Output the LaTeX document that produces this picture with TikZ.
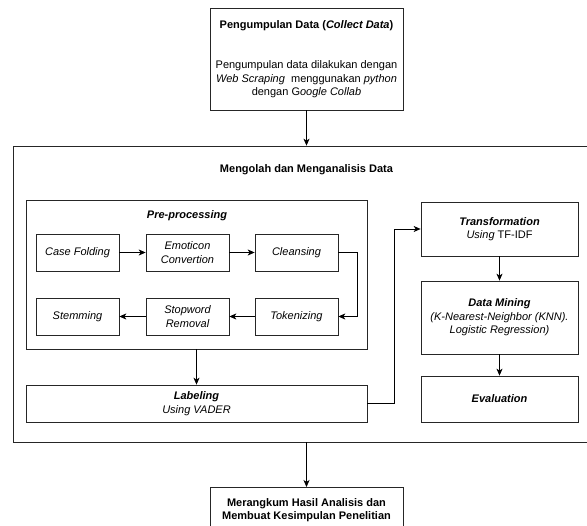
\documentclass[tikz,border=0pt]{standalone}
\usepackage{fontspec}
\setmainfont{Liberation Sans}
\usetikzlibrary{arrows.meta, calc}

\begin{document}
\begin{tikzpicture}[x=1pt, y=1pt,
	box/.style = {draw=black!85, line width=0.7pt, align=center, inner sep=2pt},
	step box/.style = {box, minimum width=83pt, minimum height=37pt, font=\fontsize{11}{13.5}\selectfont\itshape},
	flow/.style = {-{Stealth[length=7pt, width=6pt, inset=2pt]}, line width=0.7pt},
	font=\fontsize{11}{13.5}\selectfont]
	\useasboundingbox (0,0) rectangle (587,-526);
	\clip (0,0) rectangle (587,-526);
	% data collection
	\node[box, minimum width=193pt, minimum height=102pt] (collect) at (306.5,-59) {\textbf{Pengumpulan Data (\textit{Collect Data})}\\[27pt]
		Pengumpulan data dilakukan dengan\\
		\textit{Web Scraping}\ \ menggunakan \textit{python}\\
		dengan G\textit{oogle Collab}};
	% processing and analysis
	\node[box, minimum width=600pt, minimum height=296pt] (main) at (313,-294) {};
	\node (mainT) at (306.5,-170) {\textbf{Mengolah dan Menganalisis Data}};
	\node[box, minimum width=341pt, minimum height=149pt] (pre) at (196.5,-274.5) {};
	\node (preT) at (187,-216) {\textbf{\textit{Pre-processing}}};
	\node[step box] (fold) at (77.5,-252.5) {Case Folding};
	\node[step box] (emot) at (187.5,-252.5) {Emoticon\\Convertion};
	\node[step box] (clean) at (296.5,-252.5) {Cleansing};
	\node[step box] (stem) at (77.5,-316.5) {Stemming};
	\node[step box] (stop) at (187.5,-316.5) {Stopword\\Removal};
	\node[step box] (token) at (296.5,-316.5) {Tokenizing};
	\node[box, minimum width=341pt, minimum height=37pt] (label) at (196.5,-403.5) {\textbf{\textit{Labeling}}\\\textit{Using VADER}};
	\node[box, minimum width=157pt, minimum height=54pt] (trans) at (499.5,-229) {\textbf{\textit{Transformation}}\\\textit{Using} TF-IDF};
	\node[box, minimum width=157pt, minimum height=73pt] (mining) at (499.5,-317.5) {\textbf{\textit{Data Mining}}\\\textit{(K-Nearest-Neighbor (KNN).}\\\textit{Logistic Regression)}};
	\node[box, minimum width=157pt, minimum height=46pt] (eval) at (499.5,-399) {\textbf{\textit{Evaluation}}};
	% conclusion
	\node[box, minimum width=193pt, minimum height=46pt, anchor=north] (summary) at (306.5,-487) {\textbf{Merangkum Hasil Analisis dan}\\\textbf{Membuat Kesimpulan Penelitian}};
	\path[flow]
		(fold) edge (emot)
		(emot) edge (clean)
		(token) edge (stop)
		(stop) edge (stem)
		(pre) edge (label)
		(trans) edge (mining)
		(mining) edge (eval);
	\draw[flow] (clean.east) -- ++(19,0) |- (token.east);
	\draw[flow] (label.east) -- ++(27,0) |- (trans.west);
	\draw[flow] (collect.south) -- (collect.south |- main.north);
	\draw[flow] (collect.south |- main.south) -- (summary.north);
\end{tikzpicture}
\end{document}
